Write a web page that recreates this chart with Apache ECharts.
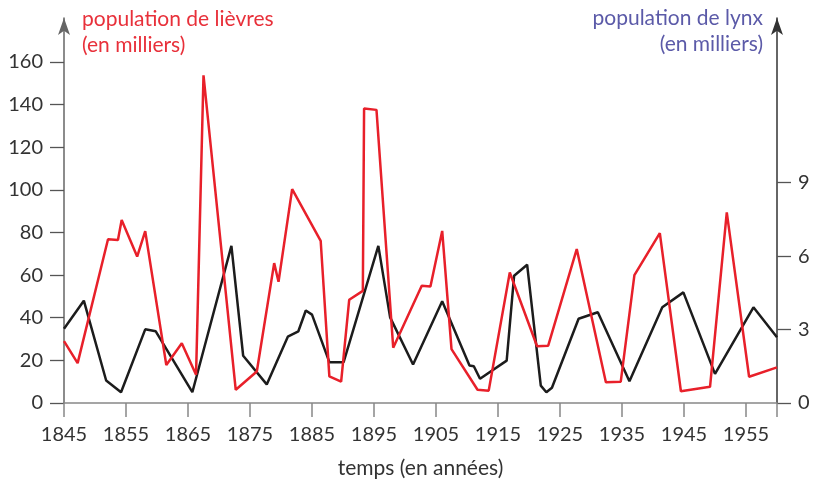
<!DOCTYPE html>
<html>
<head>
	<meta charset="utf-8">
	<title>lièvres et lynx</title>
	<script src="https://cdn.jsdelivr.net/npm/echarts@6/dist/echarts.min.js"></script>
	<style>
		body { margin: 0; background: #fff; }
	</style>
</head>
<body>
	<div id="chart" style="width: 821px; height: 481px;"></div>
	<script>
		// [année, population] en milliers
		var lievres = [
			[1845, 29], [1847.2, 18.7], [1852.1, 76.8], [1853.7, 76.5], [1854.3, 85.8],
			[1856.8, 68.7], [1858.1, 80.6], [1861.5, 17.8], [1864, 28], [1866.3, 13.3],
			[1867.5, 153.7], [1872.7, 6.2], [1876.1, 14.8], [1878.9, 65.6], [1879.6, 56.9],
			[1881.8, 100.3], [1886.4, 76.1], [1887.8, 12.5], [1889.7, 10], [1891, 48.4],
			[1893.2, 52.6], [1893.4, 138.2], [1895.4, 137.5], [1898.1, 25.9], [1902.7, 55],
			[1904.1, 54.7], [1906, 80.7], [1907.5, 25.3], [1911.7, 6.2], [1913.5, 5.8],
			[1916.9, 61.2], [1921.3, 26.6], [1923.1, 26.9], [1927.7, 72.2], [1932.4, 9.7],
			[1934.8, 10], [1937, 60], [1941.1, 79.7], [1944.5, 5.5], [1949.2, 7.6],
			[1951.9, 89.4], [1955.5, 12.3], [1960, 16.7]
		];
		var lynx = [
			[1845, 3.03], [1848.2, 4.18], [1851.8, 0.92], [1854.2, 0.44], [1858.1, 3.01],
			[1859.8, 2.93], [1865.7, 0.44], [1872, 6.42], [1873.9, 1.93], [1877.7, 0.76],
			[1881.1, 2.71], [1882.8, 2.93], [1884, 3.78], [1885, 3.61], [1887.8, 1.67],
			[1890.1, 1.67], [1895.7, 6.42], [1897.6, 3.5], [1901.3, 1.57], [1906, 4.16],
			[1910.4, 1.53], [1911.1, 1.5], [1912.1, 0.99], [1916.4, 1.73], [1917.6, 5.2],
			[1919.7, 5.65], [1921.9, 0.71], [1922.8, 0.44], [1923.7, 0.62], [1928, 3.44],
			[1931.1, 3.71], [1936.2, 0.89], [1941.5, 3.91], [1944.9, 4.52], [1950, 1.19],
			[1956.2, 3.91], [1960, 2.69]
		];
		var anneesLabels = [1845, 1855, 1865, 1875, 1885, 1895, 1905, 1915, 1925, 1935, 1945, 1955];
		var anneesTicks = anneesLabels.concat([1960]);
		var ticksLievres = [0, 20, 40, 60, 80, 100, 120, 140, 160];
		var ticksLynx = [0, 3, 6, 9];

		var police = 'Lato, "Open Sans", sans-serif';
		var chart = echarts.init(document.getElementById('chart'));
		chart.setOption({
			animation: false,
			title: {
				text: 'population de lièvres\n(en milliers)',
				left: 77, top: 1,
				textStyle: { color: '#e8303a', fontFamily: police, fontSize: 21, fontWeight: 'normal', lineHeight: 26 }
			},
			graphic: [{
				type: 'text',
				right: 58, top: 8,
				style: { text: 'population de lynx', fill: '#5b5aa8', font: '21px ' + police }
			}, {
				type: 'text',
				right: 58, top: 34,
				style: { text: '(en milliers)', fill: '#5b5aa8', font: '21px ' + police }
			}],
			grid: { left: 64, right: 44, top: 18, bottom: 78, containLabel: false, outerBoundsMode: 'none' },
			xAxis: {
				type: 'value',
				min: 1845, max: 1960,
				name: 'temps (en années)',
				nameLocation: 'middle',
				nameGap: 55,
				nameMoveOverlap: false,
				nameTextStyle: { color: '#333', fontFamily: police, fontSize: 21 },
				axisLine: { lineStyle: { color: '#888', width: 1.5 } },
				axisTick: { customValues: anneesTicks, length: 14, lineStyle: { color: '#888', width: 1.5 } },
				axisLabel: { customValues: anneesLabels, margin: 22, color: '#333', fontFamily: police, fontSize: 20,
					formatter: function (v) { return String(v); } },
				splitLine: { show: false }
			},
			yAxis: [{
				type: 'value',
				min: 0, max: 180.6,
				position: 'left',
				axisLine: { show: true, symbol: ['none', 'arrow'], symbolSize: [9, 17], lineStyle: { color: '#666', width: 1.5 } },
				axisTick: { show: true, customValues: ticksLievres, length: 14, lineStyle: { color: '#555', width: 1.3 } },
				axisLabel: { customValues: ticksLievres, margin: 21, color: '#333', fontFamily: police, fontSize: 20 },
				splitLine: { show: false }
			}, {
				type: 'value',
				min: 0, max: 15.73,
				position: 'right',
				axisLine: { show: true, symbol: ['none', 'arrow'], symbolSize: [9, 17], lineStyle: { color: '#333', width: 1.5 } },
				axisTick: { show: true, customValues: ticksLynx, length: 14, lineStyle: { color: '#555', width: 1.3 } },
				axisLabel: { customValues: ticksLynx, margin: 21, color: '#333', fontFamily: police, fontSize: 20 },
				splitLine: { show: false }
			}],
			series: [{
				name: 'lièvres',
				type: 'line',
				data: lievres,
				symbol: 'none',
				lineStyle: { color: '#e8202a', width: 2.5 },
				z: 3
			}, {
				name: 'lynx',
				type: 'line',
				yAxisIndex: 1,
				data: lynx,
				symbol: 'none',
				lineStyle: { color: '#1c1c1c', width: 2.5 },
				z: 2
			}]
		});
	</script>
</body>
</html>
